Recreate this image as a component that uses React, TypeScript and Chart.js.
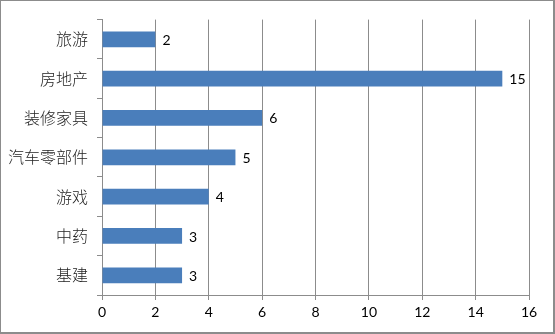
import React, { useEffect, useRef } from "react";
import { Chart, registerables } from "chart.js";

Chart.register(...registerables);

const categories = ["旅游", "房地产", "装修家具", "汽车零部件", "游戏", "中药", "基建"];
const values = [2, 15, 6, 5, 4, 3, 3];
const xMin = 0;
const xMax = 16;
const xStep = 2;

const labelPlugin = {
  id: "barLabels",
  afterDatasetsDraw(chart: any) {
    const { ctx } = chart;
    const meta = chart.getDatasetMeta(0);
    ctx.save();
    ctx.font = "14px Lato, 'Liberation Sans', sans-serif";
    ctx.fillStyle = "#000";
    ctx.textAlign = "left";
    ctx.textBaseline = "middle";
    meta.data.forEach((bar: any, i: number) => {
      ctx.fillText(String(values[i]), bar.x + 7, bar.y + 1);
    });
    ctx.restore();
  },
};

export default function App() {
  const ref = useRef<HTMLCanvasElement>(null);
  useEffect(() => {
    document.body.style.margin = "0";
    const chart = new Chart(ref.current!, {
      type: "bar",
      data: {
        labels: categories,
        datasets: [
          {
            data: values,
            backgroundColor: "#4a7ebb",
            borderWidth: 0,
            categoryPercentage: 0.8,
            barPercentage: 0.5,
          },
        ],
      },
      options: {
        indexAxis: "y",
        animation: false,
        responsive: false,
        devicePixelRatio: 1,
        layout: { padding: { top: 15, right: 24, left: 0, bottom: 0 } },
        plugins: { legend: { display: false }, tooltip: { enabled: false } },
        scales: {
          x: {
            min: xMin,
            max: xMax,
            ticks: {
              stepSize: xStep,
              color: "#000",
              padding: 4,
              font: { size: 14, family: "Lato, 'Liberation Sans', sans-serif" },
            },
            grid: { color: "#8c8c8c", tickLength: 5, lineWidth: 1 },
            border: { color: "#8c8c8c" },
            afterFit(scale: any) {
              scale.height = 37;
            },
          },
          y: {
            ticks: {
              color: "#222",
              padding: 9,
              font: { size: 16, weight: "300", family: "'Noto Sans CJK SC', sans-serif" },
            },
            grid: { drawOnChartArea: false, color: "#8c8c8c", tickLength: 5, offset: true },
            border: { color: "#8c8c8c" },
            afterFit(scale: any) {
              scale.width = 101;
            },
          },
        },
      },
      plugins: [labelPlugin],
    });
    return () => chart.destroy();
  }, []);
  return (
    <div
      style={{
        position: "absolute",
        left: 0,
        top: 0,
        width: 555,
        height: 334,
        boxSizing: "border-box",
        border: "1px solid #8c8c8c",
        borderRightWidth: 2,
        borderBottomWidth: 2,
        background: "#fff",
      }}
    >
      <canvas ref={ref} width={552} height={331} style={{ display: "block" }} />
    </div>
  );
}
